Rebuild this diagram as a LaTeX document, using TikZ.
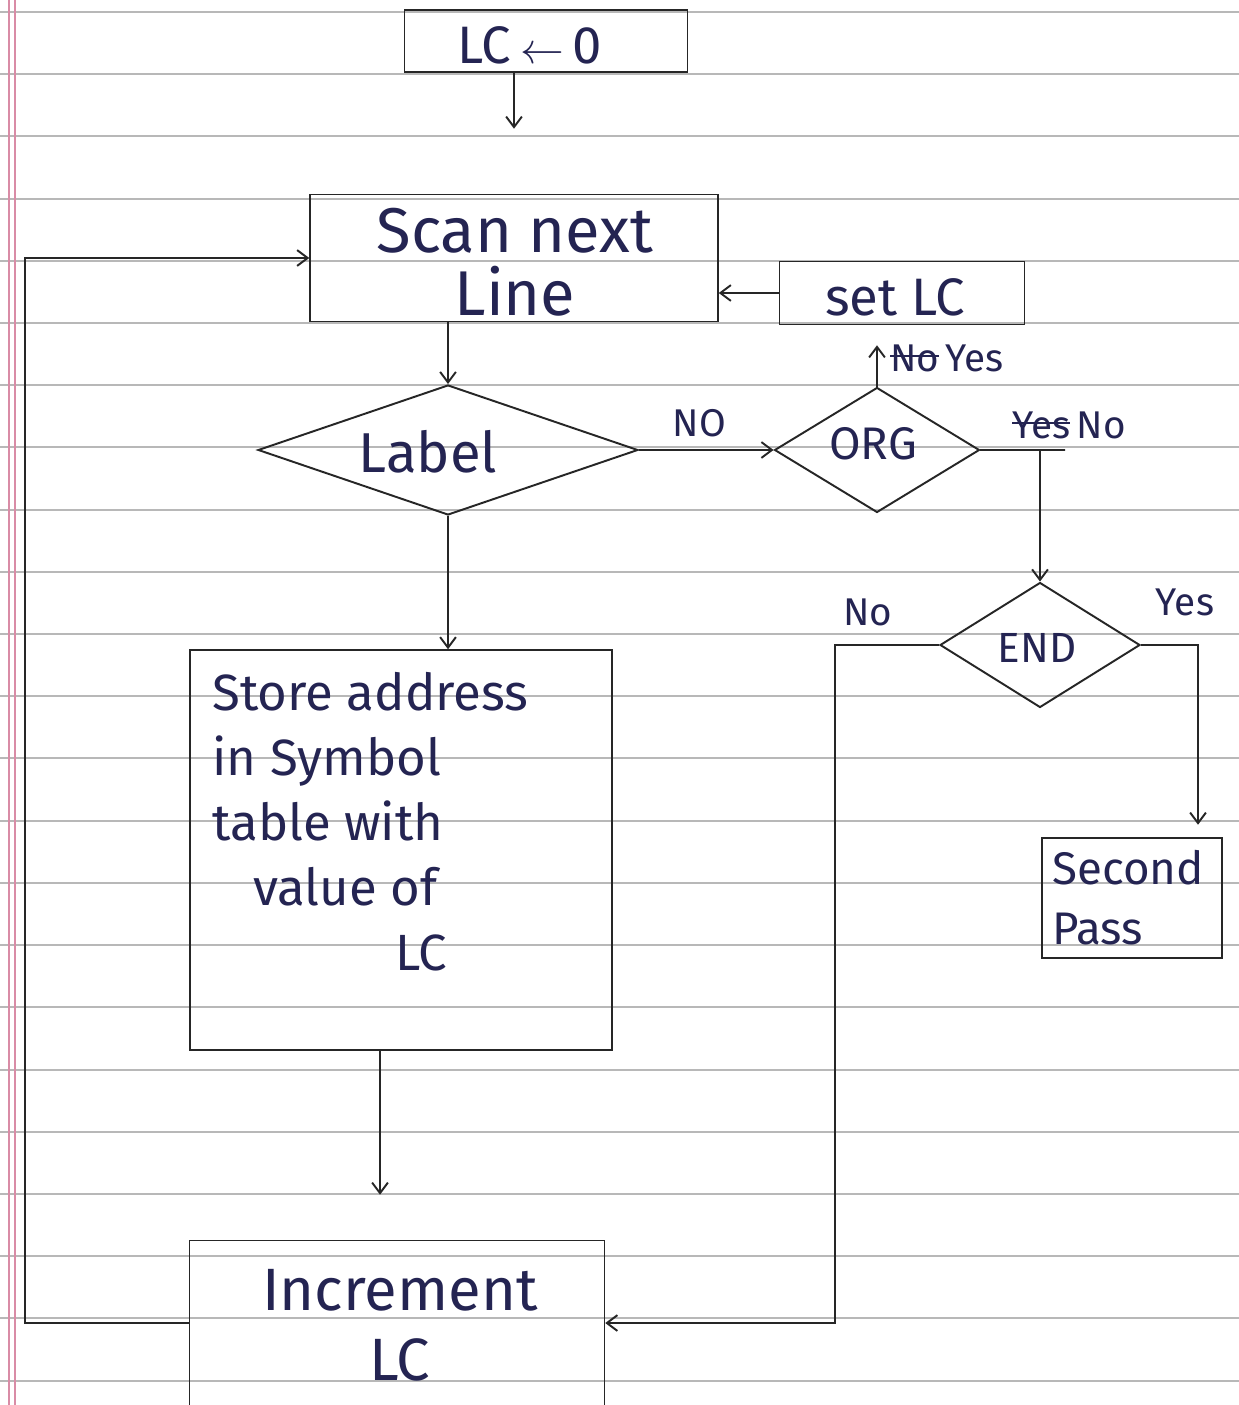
\documentclass[tikz,border=0pt]{standalone}
\usepackage{fontspec}
\setmainfont{Fira Sans}
\usetikzlibrary{shapes.geometric,arrows.meta,calc}
\newcommand\strk[1]{\setbox0\hbox{#1}\rlap{\rule[0.7ex]{\wd0}{0.9pt}}\box0}
\definecolor{ink}{rgb}{0.14,0.14,0.32}
\definecolor{pencil}{rgb}{0.15,0.15,0.15}
\definecolor{rule}{rgb}{0.72,0.72,0.72}
\definecolor{margin}{rgb}{0.85,0.55,0.65}
\tikzset{
  x=0.02cm, y=-0.02cm,
  box/.style={draw=pencil, line width=0.9pt, inner sep=0pt, text=ink},
  dia/.style={draw=pencil, line width=1.1pt, diamond, inner sep=0pt},
  txt/.style={text=ink, inner sep=0pt},
  lab/.style={text=ink, inner sep=1pt, font=\fontsize{22}{26}\selectfont},
  arr/.style={draw=pencil, line width=1.1pt, -{Straight Barb[length=6pt,width=9pt]}},
  paper/.style={draw=rule, line width=0.6pt},
}
\begin{document}
\begin{tikzpicture}
\fill[white] (0,0) rectangle (1239,1405);
\useasboundingbox (0,0) rectangle (1239,1405);
% ruled paper
\foreach \yy in {12,74,136,199,261,323,385,447,510,572,634,696,758,821,883,945,1007,1070,1132,1194,1256,1318,1381}
  \draw[paper] (0,\yy) -- (1239,\yy);
\draw[margin, line width=0.8pt] (9,0) -- (9,1405);
\draw[margin, line width=0.8pt] (15,0) -- (15,1405);

% boxes
\node[box, minimum width=5.66cm, minimum height=1.24cm] (lc) at (546,41) {};
\node[txt, font=\fontsize{30}{36}\selectfont] (lctxt) at (530,45) {LC\,$\leftarrow$\,0};

\node[box, minimum width=8.16cm, minimum height=2.54cm] (scan) at (514,258) {};
\node[txt, align=center, font=\fontsize{36}{36}\selectfont] (scantxt) at (515,262) {Scan next\\Line};

\node[box, minimum width=4.9cm, minimum height=1.26cm] (setlc) at (902,293) {};
\node[txt, font=\fontsize{30}{36}\selectfont] (setlctxt) at (895,297) {set LC};

\node[dia, minimum width=7.6cm, minimum height=2.6cm] (label) at (448,450) {};
\node[txt, font=\fontsize{32}{36}\selectfont] (labeltxt) at (428,452) {Label};

\node[dia, minimum width=4.1cm, minimum height=2.5cm] (org) at (877,450) {};
\node[txt, font=\fontsize{26}{30}\selectfont] (orgtxt) at (873,444) {ORG};

\node[dia, minimum width=4.0cm, minimum height=2.5cm] (endd) at (1040,645) {};
\node[txt, font=\fontsize{24}{30}\selectfont] (endtxt) at (1037,648) {END};

\node[box, minimum width=3.6cm, minimum height=2.4cm] (second) at (1132,898) {};
\node[txt, align=left, anchor=west, font=\fontsize{26}{34}\selectfont] (secondtxt) at (1052,898) {Second\\Pass};

\node[box, minimum width=8.44cm, minimum height=8.0cm] (store) at (401,850) {};
\node[txt, align=left, anchor=north west, font=\fontsize{29}{37}\selectfont] (storetxt) at (212,672)
  {Store address\\in Symbol\\table with\\\hspace*{0.8em}value of\\\hspace*{3.6em}LC};

\node[box, minimum width=8.3cm, minimum height=3.3cm] (inc) at (397,1323) {};
\node[txt, align=center, font=\fontsize{34}{40}\selectfont] (inctxt) at (400,1325) {Increment\\LC};

% helper coordinates
\coordinate (orgturn) at (1065,450);
\coordinate (yescorner) at (1198,645);
\coordinate (nocorner) at (835,645);
\coordinate (loopbot) at (25,1323);
\coordinate (looptop) at (25,258);
\coordinate (storeout) at (380,1050);

% connectors
\draw[arr, shorten >=1.3cm] (lc.south -| scan.north) -- (scan.north);
\draw[arr] (scan.south -| label.north) -- (label.north);
\draw[arr] (setlc.west) -- (setlc.west -| scan.east);
\draw[arr] (label.east) -- node[lab, above=6pt, pos=0.45] (nolab1) {NO} (org.west);
\draw[arr, shorten >=0.4cm] (org.north) -- (org.north |- setlc.south);
\node[lab, anchor=west] (orgyes) at (888,358) {\strk{No}\,Yes};
\draw[arr] (org.east) -- (orgturn) -| (endd.north);
\node[lab, anchor=west] (orgno) at (1010,425) {\strk{Yes}\,No};
\draw[arr, shorten >=0.25cm] (endd.east) -- (yescorner) -- (yescorner |- second.north);
\node[lab] (endyes) at (1185,602) {Yes};
\draw[arr] (endd.west) -- (nocorner) -- (nocorner |- inc.east) -- (inc.east);
\node[lab] (endno) at (868,612) {No};
\draw[arr] (label.south) -- (label.south |- store.north);
\draw[arr, shorten >=0.9cm] (storeout) -- (storeout |- inc.north);
\draw[arr] (inc.west) -- (loopbot) -- (looptop) -- (looptop -| scan.west);
\end{tikzpicture}
\end{document}
